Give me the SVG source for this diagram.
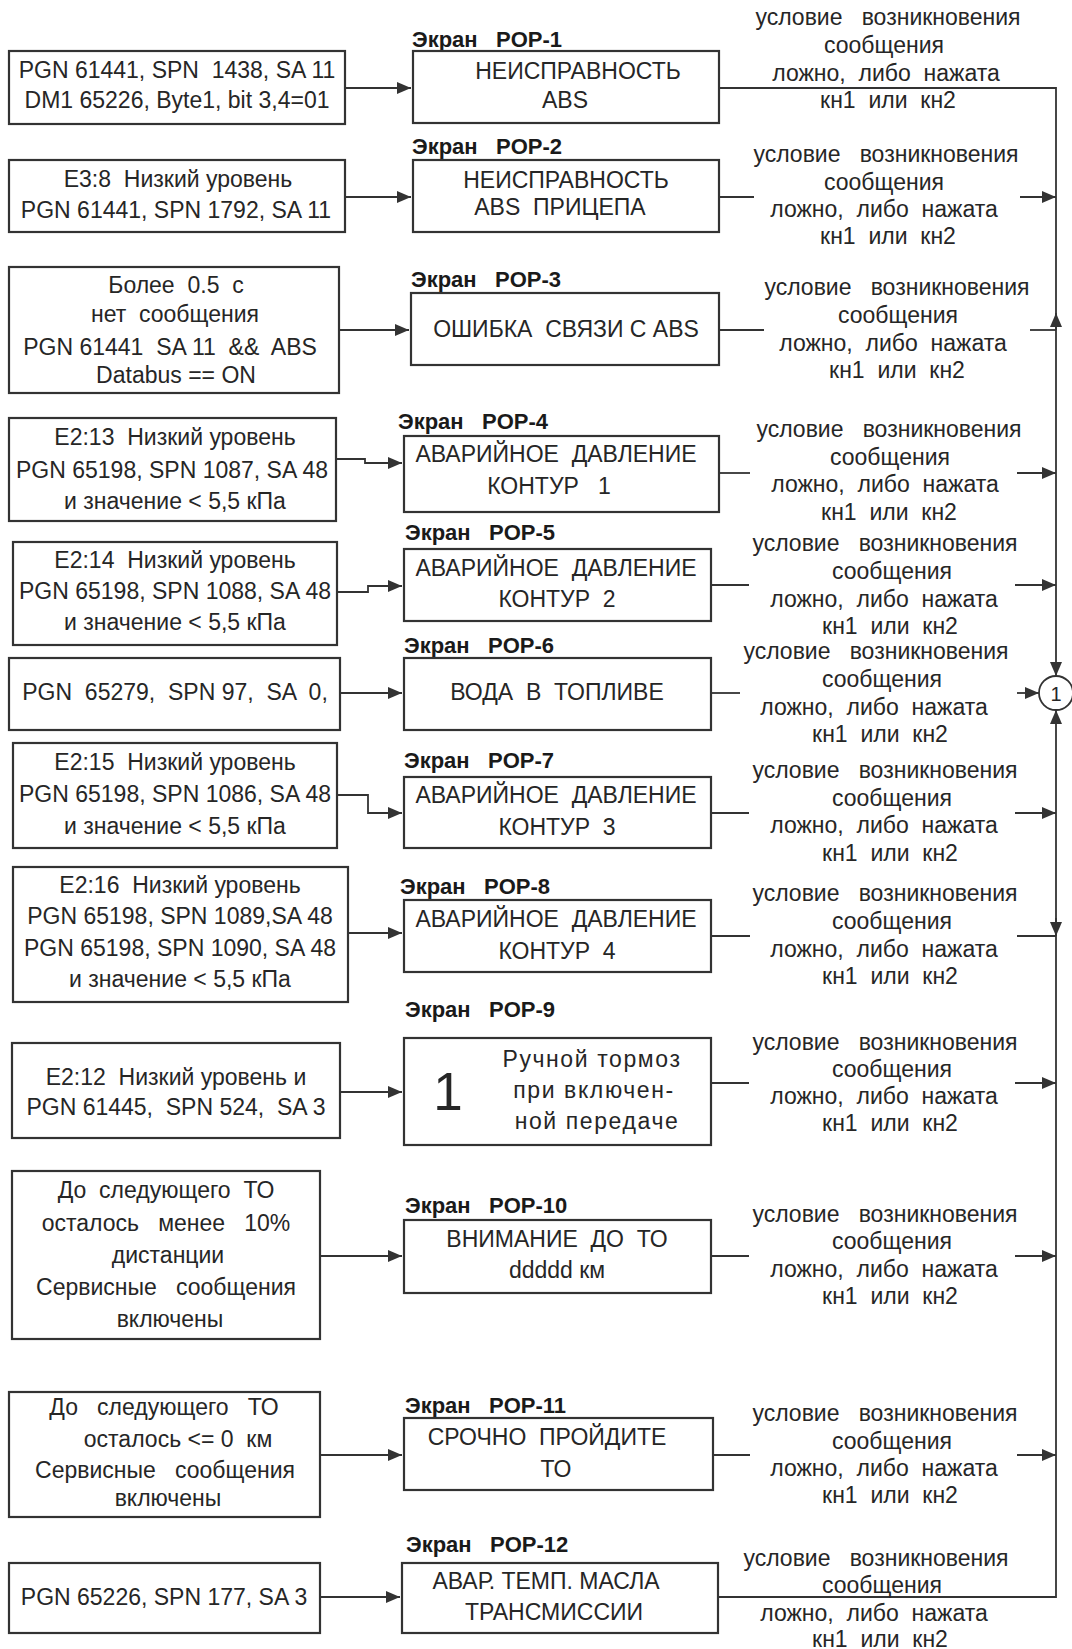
<svg xmlns="http://www.w3.org/2000/svg" width="1072" height="1649" viewBox="0 0 1072 1649">
<defs>
<style>
.bx{fill:#fff;stroke:#333;stroke-width:2.2}
.t{font-family:"Liberation Sans",Arial,sans-serif;font-size:23px;fill:#262626;text-anchor:middle;white-space:pre}
.lb{font-family:"Liberation Sans",Arial,sans-serif;font-size:22px;font-weight:bold;fill:#1a1a1a;white-space:pre}
.ln{fill:none;stroke:#333;stroke-width:1.8}
.sp{letter-spacing:1.6px}
</style>
<marker id="ar" viewBox="0 0 14 12" markerWidth="14" markerHeight="12" refX="14" refY="6" orient="auto" markerUnits="userSpaceOnUse"><path d="M0,0 L14,6 L0,12 Z" fill="#333"/></marker>
</defs>
<rect width="1072" height="1649" fill="#fff"/>

<g id="connectors">
<path class="ln" d="M345,88 H411" marker-end="url(#ar)"/>
<path class="ln" d="M345,197 H411" marker-end="url(#ar)"/>
<path class="ln" d="M339,330 H409" marker-end="url(#ar)"/>
<path class="ln" d="M336,459 H365 V463 H402" marker-end="url(#ar)"/>
<path class="ln" d="M337,592 H368 V586 H402" marker-end="url(#ar)"/>
<path class="ln" d="M340,693 H402" marker-end="url(#ar)"/>
<path class="ln" d="M337,795 H368 V813 H402" marker-end="url(#ar)"/>
<path class="ln" d="M348,933 H402" marker-end="url(#ar)"/>
<path class="ln" d="M340,1092 H402" marker-end="url(#ar)"/>
<path class="ln" d="M320,1256 H402" marker-end="url(#ar)"/>
<path class="ln" d="M320,1455 H402" marker-end="url(#ar)"/>
<path class="ln" d="M320,1597 H400" marker-end="url(#ar)"/>

<path class="ln" d="M719,88 H1056 V676" marker-end="url(#ar)"/>
<path class="ln" d="M719,197 H754"/><path class="ln" d="M1020,197 H1056" marker-end="url(#ar)"/>
<path class="ln" d="M719,330 H764"/><path class="ln" d="M1030,330 H1056"/>
<path class="ln" d="M1056,330 V313" marker-end="url(#ar)"/>
<path class="ln" d="M719,473 H750"/><path class="ln" d="M1017,473 H1056" marker-end="url(#ar)"/>
<path class="ln" d="M711,585 H749"/><path class="ln" d="M1015,585 H1056" marker-end="url(#ar)"/>
<path class="ln" d="M711,693 H740"/><path class="ln" d="M1017,693 H1039" marker-end="url(#ar)"/>
<path class="ln" d="M711,813 H749"/><path class="ln" d="M1015,813 H1056" marker-end="url(#ar)"/>
<path class="ln" d="M711,936 H750"/><path class="ln" d="M1017,936 H1056"/>
<path class="ln" d="M1056,918 V936" marker-end="url(#ar)"/>
<path class="ln" d="M711,1083 H749"/><path class="ln" d="M1015,1083 H1056" marker-end="url(#ar)"/>
<path class="ln" d="M711,1256 H749"/><path class="ln" d="M1015,1256 H1056" marker-end="url(#ar)"/>
<path class="ln" d="M713,1455 H750"/><path class="ln" d="M1017,1455 H1056" marker-end="url(#ar)"/>
<path class="ln" d="M718,1597 H1056 V710" marker-end="url(#ar)"/>
</g>

<g id="junction-1">
<circle cx="1056" cy="693" r="17" fill="#fff" stroke="#333" stroke-width="1.8"/>
<text class="t" x="1056" y="701" style="font-size:20px">1</text>
</g>

<g id="src-1"><rect class="bx" x="9" y="51" width="336" height="73"/>
<text class="t" x="177" y="78">PGN 61441, SPN  1438, SA 11</text>
<text class="t" x="177" y="108">DM1 65226, Byte1, bit 3,4=01</text></g>
<g id="src-2"><rect class="bx" x="9" y="160" width="336" height="72"/>
<text class="t" x="178" y="187">E3:8  Низкий уровень</text>
<text class="t" x="176" y="218">PGN 61441, SPN 1792, SA 11</text></g>
<g id="src-3"><rect class="bx" x="9" y="267" width="330" height="126"/>
<text class="t" x="176" y="293">Более  0.5  с</text>
<text class="t" x="175" y="322">нет  сообщения</text>
<text class="t" x="170" y="355">PGN 61441  SA 11  &amp;&amp;  ABS</text>
<text class="t" x="176" y="383">Databus == ON</text></g>
<g id="src-4"><rect class="bx" x="9" y="418" width="327" height="103"/>
<text class="t" x="175" y="445">E2:13  Низкий уровень</text>
<text class="t" x="172" y="478">PGN 65198, SPN 1087, SA 48</text>
<text class="t" x="175" y="509">и значение &lt; 5,5 кПа</text></g>
<g id="src-5"><rect class="bx" x="13" y="542" width="324" height="103"/>
<text class="t" x="175" y="568">E2:14  Низкий уровень</text>
<text class="t" x="175" y="599">PGN 65198, SPN 1088, SA 48</text>
<text class="t" x="175" y="630">и значение &lt; 5,5 кПа</text></g>
<g id="src-6"><rect class="bx" x="9" y="658" width="331" height="72"/>
<text class="t" x="175" y="700">PGN  65279,  SPN 97,  SA  0,</text></g>
<g id="src-7"><rect class="bx" x="13" y="743" width="324" height="105"/>
<text class="t" x="175" y="770">E2:15  Низкий уровень</text>
<text class="t" x="175" y="802">PGN 65198, SPN 1086, SA 48</text>
<text class="t" x="175" y="834">и значение &lt; 5,5 кПа</text></g>
<g id="src-8"><rect class="bx" x="13" y="867" width="335" height="135"/>
<text class="t" x="180" y="893">E2:16  Низкий уровень</text>
<text class="t" x="180" y="924">PGN 65198, SPN 1089,SA 48</text>
<text class="t" x="180" y="956">PGN 65198, SPN 1090, SA 48</text>
<text class="t" x="180" y="987">и значение &lt; 5,5 кПа</text></g>
<g id="src-9"><rect class="bx" x="12" y="1043" width="328" height="95"/>
<text class="t" x="176" y="1085">E2:12  Низкий уровень и</text>
<text class="t" x="176" y="1115">PGN 61445,  SPN 524,  SA 3</text></g>
<g id="src-10"><rect class="bx" x="12" y="1171" width="308" height="168"/>
<text class="t" x="166" y="1198">До  следующего  ТО</text>
<text class="t" x="166" y="1231">осталось   менее   10%</text>
<text class="t" x="168" y="1263">дистанции</text>
<text class="t" x="166" y="1295">Сервисные   сообщения</text>
<text class="t" x="170" y="1327">включены</text></g>
<g id="src-11"><rect class="bx" x="9" y="1392" width="311" height="125"/>
<text class="t" x="164" y="1415">До   следующего   ТО</text>
<text class="t" x="178" y="1447">осталось &lt;= 0  км</text>
<text class="t" x="165" y="1478">Сервисные   сообщения</text>
<text class="t" x="168" y="1506">включены</text></g>
<g id="src-12"><rect class="bx" x="9" y="1563" width="311" height="70"/>
<text class="t" x="164" y="1605">PGN 65226, SPN 177, SA 3</text></g>

<g id="pop-1"><text class="lb" x="412" y="47">Экран   POP-1</text>
<rect class="bx" x="413" y="51" width="306" height="72"/>
<text class="t" x="578" y="79">НЕИСПРАВНОСТЬ</text>
<text class="t" x="565" y="108">ABS</text></g>
<g id="pop-2"><text class="lb" x="412" y="154">Экран   POP-2</text>
<rect class="bx" x="413" y="160" width="306" height="72"/>
<text class="t" x="566" y="188">НЕИСПРАВНОСТЬ</text>
<text class="t" x="560" y="215">ABS  ПРИЦЕПА</text></g>
<g id="pop-3"><text class="lb" x="411" y="287">Экран   POP-3</text>
<rect class="bx" x="411" y="293" width="308" height="72"/>
<text class="t" x="566" y="337">ОШИБКА  СВЯЗИ С ABS</text></g>
<g id="pop-4"><text class="lb" x="398" y="429">Экран   POP-4</text>
<rect class="bx" x="404" y="436" width="315" height="76"/>
<text class="t" x="556" y="462">АВАРИЙНОЕ  ДАВЛЕНИЕ</text>
<text class="t" x="549" y="494">КОНТУР   1</text></g>
<g id="pop-5"><text class="lb" x="405" y="540">Экран   POP-5</text>
<rect class="bx" x="404" y="549" width="307" height="72"/>
<text class="t" x="556" y="576">АВАРИЙНОЕ  ДАВЛЕНИЕ</text>
<text class="t" x="557" y="607">КОНТУР  2</text></g>
<g id="pop-6"><text class="lb" x="404" y="653">Экран   POP-6</text>
<rect class="bx" x="404" y="658" width="307" height="72"/>
<text class="t" x="557" y="700">ВОДА  В  ТОПЛИВЕ</text></g>
<g id="pop-7"><text class="lb" x="404" y="768">Экран   POP-7</text>
<rect class="bx" x="404" y="777" width="307" height="71"/>
<text class="t" x="556" y="803">АВАРИЙНОЕ  ДАВЛЕНИЕ</text>
<text class="t" x="557" y="835">КОНТУР  3</text></g>
<g id="pop-8"><text class="lb" x="400" y="894">Экран   POP-8</text>
<rect class="bx" x="404" y="900" width="307" height="72"/>
<text class="t" x="556" y="927">АВАРИЙНОЕ  ДАВЛЕНИЕ</text>
<text class="t" x="557" y="959">КОНТУР  4</text></g>
<g id="pop-9"><text class="lb" x="405" y="1017">Экран   POP-9</text>
<rect class="bx" x="404" y="1038" width="307" height="107"/>
<text class="t" x="448" y="1110" style="font-size:53px">1</text>
<text class="t sp" x="592" y="1067">Ручной тормоз</text>
<text class="t sp" x="594" y="1098">при включен-</text>
<text class="t sp" x="597" y="1129">ной передаче</text></g>
<g id="pop-10"><text class="lb" x="405" y="1213">Экран   POP-10</text>
<rect class="bx" x="404" y="1220" width="307" height="73"/>
<text class="t" x="557" y="1247">ВНИМАНИЕ  ДО  ТО</text>
<text class="t" x="557" y="1278">ddddd км</text></g>
<g id="pop-11"><text class="lb" x="405" y="1413">Экран   POP-11</text>
<rect class="bx" x="404" y="1418" width="309" height="72"/>
<text class="t" x="547" y="1445">СРОЧНО  ПРОЙДИТЕ</text>
<text class="t" x="556" y="1477">ТО</text></g>
<g id="pop-12"><text class="lb" x="406" y="1552">Экран   POP-12</text>
<rect class="bx" x="402" y="1563" width="316" height="70"/>
<text class="t" x="546" y="1589">АВАР. ТЕМП. МАСЛА</text>
<text class="t" x="554" y="1620">ТРАНСМИССИИ</text></g>

<g id="cond-1"><text class="t" x="888" y="25">условие   возникновения</text><text class="t" x="884" y="53">сообщения</text><text class="t" x="886" y="81">ложно,  либо  нажата</text><text class="t" x="888" y="108">кн1  или  кн2</text></g>
<g id="cond-2"><text class="t" x="886" y="162">условие   возникновения</text><text class="t" x="884" y="190">сообщения</text><text class="t" x="884" y="217">ложно,  либо  нажата</text><text class="t" x="888" y="244">кн1  или  кн2</text></g>
<g id="cond-3"><text class="t" x="897" y="295">условие   возникновения</text><text class="t" x="898" y="323">сообщения</text><text class="t" x="893" y="351">ложно,  либо  нажата</text><text class="t" x="897" y="378">кн1  или  кн2</text></g>
<g id="cond-4"><text class="t" x="889" y="437">условие   возникновения</text><text class="t" x="890" y="465">сообщения</text><text class="t" x="885" y="492">ложно,  либо  нажата</text><text class="t" x="889" y="520">кн1  или  кн2</text></g>
<g id="cond-5"><text class="t" x="885" y="551">условие   возникновения</text><text class="t" x="892" y="579">сообщения</text><text class="t" x="884" y="607">ложно,  либо  нажата</text><text class="t" x="890" y="634">кн1  или  кн2</text></g>
<g id="cond-6"><text class="t" x="876" y="659">условие   возникновения</text><text class="t" x="882" y="687">сообщения</text><text class="t" x="874" y="715">ложно,  либо  нажата</text><text class="t" x="880" y="742">кн1  или  кн2</text></g>
<g id="cond-7"><text class="t" x="885" y="778">условие   возникновения</text><text class="t" x="892" y="806">сообщения</text><text class="t" x="884" y="833">ложно,  либо  нажата</text><text class="t" x="890" y="861">кн1  или  кн2</text></g>
<g id="cond-8"><text class="t" x="885" y="901">условие   возникновения</text><text class="t" x="892" y="929">сообщения</text><text class="t" x="884" y="957">ложно,  либо  нажата</text><text class="t" x="890" y="984">кн1  или  кн2</text></g>
<g id="cond-9"><text class="t" x="885" y="1050">условие   возникновения</text><text class="t" x="892" y="1077">сообщения</text><text class="t" x="884" y="1104">ложно,  либо  нажата</text><text class="t" x="890" y="1131">кн1  или  кн2</text></g>
<g id="cond-10"><text class="t" x="885" y="1222">условие   возникновения</text><text class="t" x="892" y="1249">сообщения</text><text class="t" x="884" y="1277">ложно,  либо  нажата</text><text class="t" x="890" y="1304">кн1  или  кн2</text></g>
<g id="cond-11"><text class="t" x="885" y="1421">условие   возникновения</text><text class="t" x="892" y="1449">сообщения</text><text class="t" x="884" y="1476">ложно,  либо  нажата</text><text class="t" x="890" y="1503">кн1  или  кн2</text></g>
<g id="cond-12"><text class="t" x="876" y="1566">условие   возникновения</text><text class="t" x="882" y="1593">сообщения</text><text class="t" x="874" y="1621">ложно,  либо  нажата</text><text class="t" x="880" y="1647">кн1  или  кн2</text></g>
</svg>
